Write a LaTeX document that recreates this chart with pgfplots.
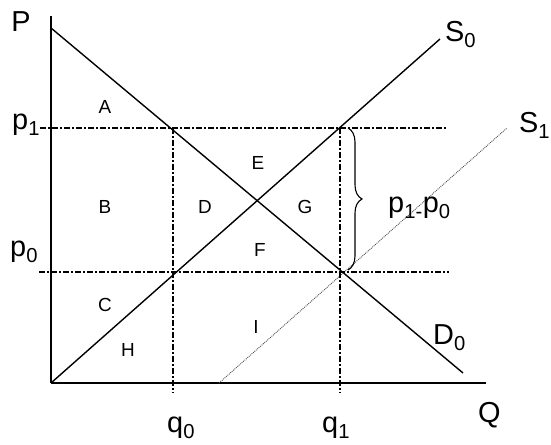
\documentclass[border=0pt]{standalone}
\usepackage{fontspec}
\setmainfont{Liberation Sans}
\usepackage{pgfplots}
\pgfplotsset{compat=1.18}
\usetikzlibrary{decorations.pathreplacing}
\begin{document}
\begin{tikzpicture}[
    big/.style={anchor=base west, inner sep=0, font=\fontsize{29}{30}\selectfont},
    area/.style={inner sep=0, font=\fontsize{19}{20}\selectfont},
    guide/.style={line width=1.2bp, dash pattern=on 6bp off 2.2bp on 1.6bp off 2.2bp},
]
% one data unit = one pixel of the reference
\begin{axis}[
    x=1bp, y=1bp,
    xmin=0, xmax=435, ymin=0, ymax=367,
    axis lines=left,
    axis line style={-, line width=1.9bp},
    xtick=\empty, ytick=\empty,
    clip=false,
    every axis plot/.append style={no marks},
]
% D0 and S0
\addplot[line width=1.4bp] coordinates {(0,355) (412,10)};
\addplot[line width=1.4bp] coordinates {(0,0) (389,344)};
% S1
\addplot[line width=0.9bp, black!70, densely dotted] coordinates {(168,0) (456,255)};
% price and quantity guides
\addplot[guide] coordinates {(-11,255) (397,255)};
\addplot[guide] coordinates {(-12,111) (398,111)};
\addplot[guide] coordinates {(122,255) (122,-10)};
\addplot[guide] coordinates {(289,255) (289,-10)};
% brace p1-p0
\draw[line width=1.1bp, decorate, decoration={brace, amplitude=14bp}]
    (axis cs:297,255) -- (axis cs:297,113);

% big labels
\node[big, anchor=center] at (axis cs:-30,361) {P};
\node[big] at (axis cs:-39,253) {p\textsubscript{1}};
\node[big] at (axis cs:-41,126) {p\textsubscript{0}};
\node[big] at (axis cs:116,-50) {q\textsubscript{0}};
\node[big] at (axis cs:271,-50) {q\textsubscript{1}};
\node[big] at (axis cs:427,-40) {Q};
\node[big] at (axis cs:382,38) {D\textsubscript{0}};
\node[big] at (axis cs:394,341) {S\textsubscript{0}};
\node[big] at (axis cs:468,250) {S\textsubscript{1}};
\node[big] at (axis cs:337,170) {p\textsubscript{1-}p\textsubscript{0}};

% area letters
\node[area] at (axis cs:54,276) {A};
\node[area] at (axis cs:54,176) {B};
\node[area] at (axis cs:54,78) {C};
\node[area] at (axis cs:154,176) {D};
\node[area] at (axis cs:207,220) {E};
\node[area] at (axis cs:209,133) {F};
\node[area] at (axis cs:254,176) {G};
\node[area] at (axis cs:77,33) {H};
\node[area] at (axis cs:205,56) {I};

\coordinate (bl) at (axis cs:-51,-62);
\coordinate (tr) at (axis cs:500,383);
\end{axis}
\pgfresetboundingbox
\path[use as bounding box] (bl) rectangle (tr);
\end{tikzpicture}
\end{document}
